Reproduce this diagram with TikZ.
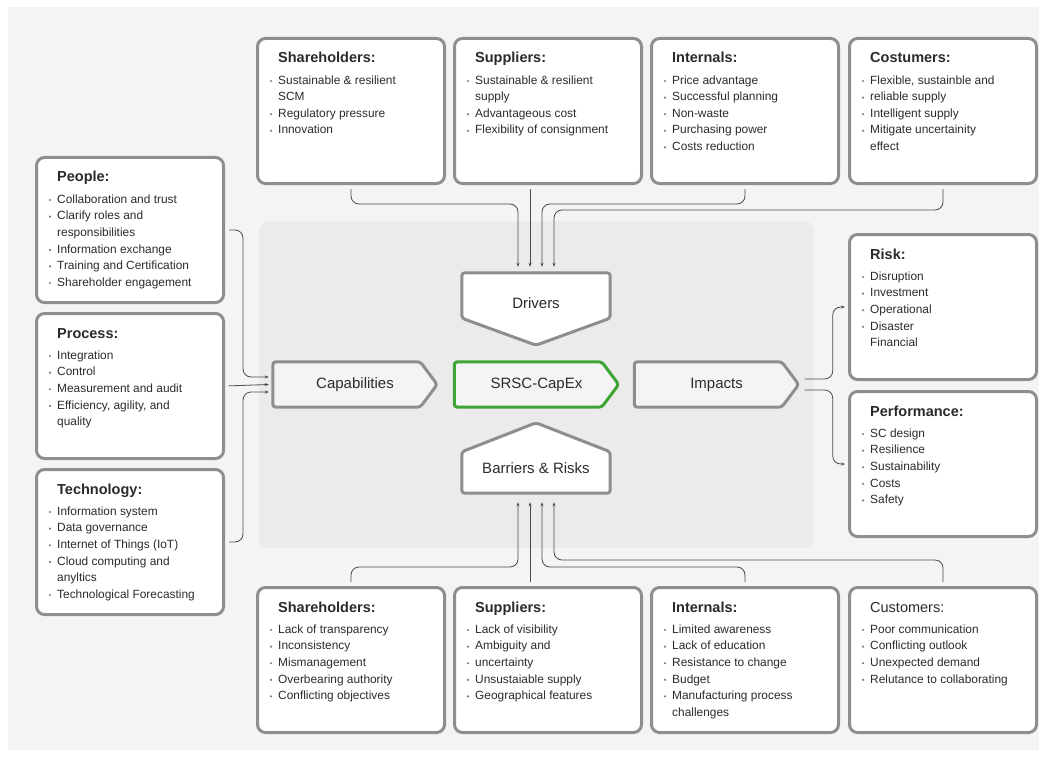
\documentclass[tikz,border=0pt]{standalone}
\usepackage{fontspec}
\setmainfont{Liberation Sans}
\usetikzlibrary{arrows.meta,positioning}

\definecolor{pagebg}{HTML}{F4F4F4}
\definecolor{panelbg}{HTML}{EBEBEB}
\definecolor{framecol}{HTML}{8E8E8E}
\definecolor{dotcol}{HTML}{7A7A7A}
\definecolor{linecol}{HTML}{4A4A4A}
\definecolor{textcol}{HTML}{2B2B2B}
\definecolor{corecol}{HTML}{3DA535}

% box with heading and bullet list
\newcommand{\factorbox}[5]{%
  \node[factor] (#1) at (#2,#3) {};
  \node[head] (#1-h) at ([xshift=22pt,yshift=-22pt]#1.north west) {#4};
  \foreach \mk/\txt [count=\i from 0] in {#5} {
    \node[entry] (#1-\i) at ([xshift=22pt,yshift={-44pt-16.6pt*\i}]#1.north west) {\txt};
    \ifnum\mk=1 \fill[dotcol] ([xshift=-7pt]#1-\i.west) circle (1.2pt);\fi
  }
}

\begin{document}
\begin{tikzpicture}[x=1pt,y=-1pt]
\tikzstyle{factor}=[draw=framecol,line width=3pt,fill=white,rounded corners=8pt,anchor=north west,minimum width=187pt,minimum height=145pt]
\tikzstyle{head}=[anchor=west,inner sep=0pt,text height=11pt,text depth=3pt,text=textcol,font=\fontsize{14.5}{17}\selectfont\bfseries]
\tikzstyle{entry}=[anchor=west,inner sep=0pt,text height=9pt,text depth=2.6pt,text=textcol,font=\fontsize{11.9}{14}\selectfont]
\tikzstyle{body}=[inner sep=0pt,minimum height=45pt,minimum width=147pt]
\tikzstyle{flowline}=[draw=framecol,line width=3pt,fill=pagebg,rounded corners=3pt,line join=round]
\tikzstyle{flowtext}=[text=textcol,font=\fontsize{15}{18}\selectfont]
\tikzstyle{conn}=[draw=linecol,line width=0.8pt,rounded corners=8pt,-{Stealth[length=4pt,width=3pt]}]

\useasboundingbox (0,0) rectangle (1047,757);
\fill[pagebg] (8,7) rectangle (1039,750);
\fill[panelbg,rounded corners=10pt] (259,221) rectangle (814,548);

% left: capabilities
\factorbox{people}{35}{156}{People:}{1/Collaboration and trust,1/Clarify roles and,0/responsibilities,1/Information exchange,1/Training and Certification,1/Shareholder engagement}
\factorbox{process}{35}{312}{Process:}{1/Integration,1/Control,1/Measurement and audit,1/{Efficiency, agility, and},0/quality}
\factorbox{techn}{35}{468}{Technology:}{1/Information system,1/Data governance,1/Internet of Things (IoT),1/Cloud computing and,0/anyltics,1/Technological Forecasting}

% top: drivers
\factorbox{sh-d}{256}{37}{Shareholders:}{1/Sustainable \& resilient,0/SCM,1/Regulatory pressure,1/Innovation}
\factorbox{sp-d}{453}{37}{Suppliers:}{1/Sustainable \& resilient,0/supply,1/Advantageous cost,1/Flexibility of consignment}
\factorbox{in-d}{650}{37}{Internals:}{1/Price advantage,1/Successful planning,1/Non-waste,1/Purchasing power,1/Costs reduction}
\factorbox{cu-d}{848}{37}{Costumers:}{1/{Flexible, sustainble and},1/reliable supply,1/Intelligent supply,1/Mitigate uncertainity,0/effect}

% right: impacts
\factorbox{risk}{848}{233}{Risk:}{1/Disruption,1/Investment,1/Operational,1/Disaster,0/Financial}
\factorbox{perf}{848}{390}{Performance:}{1/SC design,1/Resilience,1/Sustainability,1/Costs,1/Safety}

% bottom: barriers
\factorbox{sh-b}{256}{586}{Shareholders:}{1/Lack of transparency,1/Inconsistency,1/Mismanagement,1/Overbearing authority,1/Conflicting objectives}
\factorbox{sp-b}{453}{586}{Suppliers:}{1/Lack of visibility,1/Ambiguity and,1/uncertainty,1/Unsustaiable supply,1/Geographical features}
\factorbox{in-b}{650}{586}{Internals:}{1/Limited awareness,1/Lack of education,1/Resistance to change,1/Budget,1/Manufacturing process,0/challenges}
\factorbox{cu-b}{848}{586}{\mdseries Customers:}{1/Poor communication,1/Conflicting outlook,1/Unexpected demand,1/Relutance to collaborating}

% centre flow: pentagon arrows
\foreach \nm/\cx/\lbl/\col in {capab/346.5/Capabilities/framecol,core/528/SRSC-CapEx/corecol,impact/708/Impacts/framecol}{
  \node[body] (\nm) at (\cx,384.5) {};
  \coordinate (\nm-tip) at ([xshift=17pt]\nm.east);
  \path[flowline,draw=\col] (\nm.north west) -- (\nm.north east) -- (\nm-tip) -- (\nm.south east) -- (\nm.south west) -- cycle;
  \node[flowtext] (\nm-t) at ([xshift=8.5pt]\nm.center) {\lbl};
}
\node[body,minimum width=148pt] (drivers) at (536,295.5) {};
\coordinate (drivers-tip) at ([yshift=-27pt]drivers.south);
\path[flowline,fill=white] (drivers.north west) -- (drivers.north east) -- (drivers.south east) -- (drivers-tip) -- (drivers.south west) -- cycle;
\node[flowtext] (drivers-t) at (536,303) {Drivers};
\node[body,minimum width=148pt,minimum height=41pt] (barriers) at (536,472.5) {};
\coordinate (barriers-tip) at ([yshift=29pt]barriers.north);
\path[flowline,fill=white] (barriers.south west) -- (barriers.north west) -- (barriers-tip) -- (barriers.north east) -- (barriers.south east) -- cycle;
\node[flowtext] (barriers-t) at (536,468) {Barriers \& Risks};

% connectors
\path[conn,shorten <=4pt] (people.east) -- ++(18,0) |- ([yshift=7.5pt,xshift=-4pt]capab.west);
\path[conn,shorten <=4pt] (process.east) -- ([xshift=-4pt]capab.west);
\path[conn,shorten <=4pt] (techn.east) -- ++(18,0) |- ([yshift=-7.5pt,xshift=-4pt]capab.west);

\path[conn,shorten <=4pt,shorten >=6pt] (sh-d.south) -- ++(0,19) -| ([xshift=-18pt]drivers.north);
\path[conn,shorten <=4pt,shorten >=6pt] ([xshift=-6pt]drivers.north |- sp-d.south) -- ([xshift=-6pt]drivers.north);
\path[conn,shorten <=4pt,shorten >=6pt] (in-d.south) -- ++(0,19) -| ([xshift=6pt]drivers.north);
\path[conn,shorten <=4pt,shorten >=6pt] (cu-d.south) -- ++(0,25) -| ([xshift=18pt]drivers.north);

\path[conn,shorten <=4pt,shorten >=9pt] (sh-b.north) -- ++(0,-19) -| ([xshift=-18pt]barriers.south);
\path[conn,shorten <=4pt,shorten >=9pt] ([xshift=-6pt]barriers.south |- sp-b.north) -- ([xshift=-6pt]barriers.south);
\path[conn,shorten <=4pt,shorten >=9pt] (in-b.north) -- ++(0,-19) -| ([xshift=6pt]barriers.south);
\path[conn,shorten <=4pt,shorten >=9pt] (cu-b.north) -- ++(0,-26) -| ([xshift=18pt]barriers.south);

\path[conn,shorten >=3pt] ([xshift=6pt,yshift=5.5pt]impact-tip) -- ([xshift=34pt,yshift=5.5pt]impact-tip) |- (risk.west);
\path[conn,shorten >=3pt] ([xshift=6pt,yshift=-5.5pt]impact-tip) -- ([xshift=34pt,yshift=-5.5pt]impact-tip) |- (perf.west);
\end{tikzpicture}
\end{document}
